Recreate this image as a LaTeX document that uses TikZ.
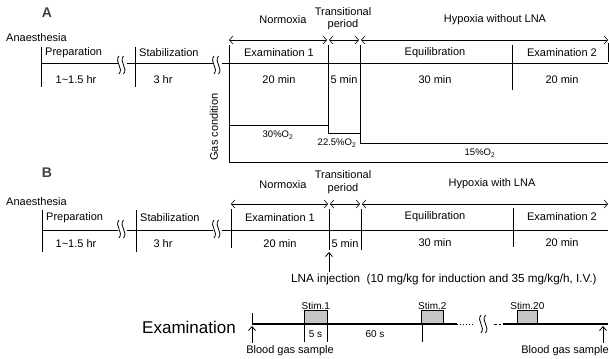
\documentclass[tikz,border=0pt]{standalone}
\usepackage{fontspec}
\setmainfont{Liberation Sans}
\usetikzlibrary{arrows.meta}
\tikzset{
  lbl/.style={font=\fontsize{11}{13}\selectfont, inner sep=0pt},
  gaslbl/.style={font=\fontsize{9.5}{11}\selectfont, inner sep=0pt},
  stimlbl/.style={font=\fontsize{10}{12}\selectfont, inner sep=0pt},
  biglbl/.style={font=\fontsize{17}{20}\selectfont, inner sep=0pt},
  lettr/.style={font=\fontsize{14}{16}\selectfont\bfseries, inner sep=0pt, text=black!75},
  tick/.style={line width=0.8pt},
  mainline/.style={double=white, draw=black, line width=0.8pt, double distance=1.4pt},
  gasline/.style={line width=0.9pt},
  span/.style={line width=0.6pt, {Straight Barb[length=3.5pt,width=8pt]}-{Straight Barb[length=3.5pt,width=8pt]}},
  uparrow/.style={line width=0.8pt, -{Straight Barb[length=4pt,width=7pt]}},
  stimbox/.style={draw, line width=0.7pt, fill=gray!45},
  exline/.style={draw=black, line width=1.1pt},
  brk/.pic={
    \fill[white] (-4.5,-9) rectangle (4.5,9);
    \draw[line width=0.8pt] (-3,-9) .. controls (-8,-3) and (2,3) .. (-3,9);
    \draw[line width=0.8pt] (1.5,-9) .. controls (-3.5,-3) and (6.5,3) .. (1.5,9);
  }
}
\begin{document}
\begin{tikzpicture}[x=1pt,y=-1pt]
\useasboundingbox (0,0) rectangle (609,358);
\fill[white] (0,0) rectangle (609,358);

% ================= Section A =================
\node[lettr] (labA) at (47,13) {A};
\node[lbl,anchor=west] (anA) at (6,38) {Anaesthesia};

\coordinate (Am0) at (41,65);
\coordinate (Am1) at (608,65);
\draw[mainline] (Am0) -- (Am1);
\pic at (122,65) {brk};
\pic at (217,65) {brk};

% ticks
\coordinate (At1a) at (41,47);  \coordinate (At1b) at (41,87);
\coordinate (At2a) at (135,47); \coordinate (At2b) at (135,87);
\coordinate (At3a) at (229,45); \coordinate (At3b) at (229,162);
\coordinate (At4a) at (328,45); \coordinate (At4b) at (328,125);
\coordinate (At5a) at (360,45); \coordinate (At5b) at (360,133);
\coordinate (At6a) at (512,45); \coordinate (At6b) at (512,90);
\coordinate (At7a) at (608,43); \coordinate (At7b) at (608,62);
\foreach \t in {1,...,7} {\draw[tick] (At\t a) -- (At\t b);}

% spans
\coordinate (As0) at (229,40);
\coordinate (As1) at (328,40);
\coordinate (As2) at (360,40);
\coordinate (As3) at (608,40);
\draw[span] (As0) -- ([xshift=-1pt]As1);
\draw[span] ([xshift=1pt]As1) -- ([xshift=-1pt]As2);
\draw[span] ([xshift=1pt]As2) -- (As3);

\node[lbl] (normA) at (283,20) {Normoxia};
\node[lbl] (trA1) at (343,12) {Transitional};
\node[lbl] (trA2) at (343,25) {period};
\node[lbl] (hypA) at (495,20) {Hypoxia without LNA};

\node[lbl,anchor=west] (prepA) at (45,53) {Preparation};
\node[lbl,anchor=west] (stabA) at (139,53) {Stabilization};
\node[lbl] (ex1A) at (279,53) {Examination 1};
\node[lbl] (eqA) at (435,53) {Equilibration};
\node[lbl] (ex2A) at (562,53) {Examination 2};

\node[lbl] (d1A) at (76,80) {1\textasciitilde 1.5 hr};
\node[lbl] (d2A) at (163,80) {3 hr};
\node[lbl] (d3A) at (279,80) {20 min};
\node[lbl] (d4A) at (344,80) {5 min};
\node[lbl] (d5A) at (435,80) {30 min};
\node[lbl] (d6A) at (562,80) {20 min};

% gas condition
\node[lbl,rotate=90] (gasc) at (214,127) {Gas condition};
\coordinate (g1) at (229,125);
\coordinate (g2) at (328,125);
\coordinate (g3) at (328,133);
\coordinate (g4) at (360,133);
\coordinate (g5) at (360,143);
\coordinate (g6) at (608,143);
\coordinate (g7) at (229,162);
\coordinate (g8) at (608,162);
\draw[gasline] (g1) -- (g2) -- (g3) -- (g4) -- (g5) -- (g6);
\draw[gasline] (g7) -- (g8);
\node[gaslbl] (o30) at (278,135) {30\%O\textsubscript{2}};
\node[gaslbl] (o22) at (337,143) {22.5\%O\textsubscript{2}};
\node[gaslbl] (o15) at (480,153) {15\%O\textsubscript{2}};

% ================= Section B =================
\node[lettr] (labB) at (47,173) {B};
\node[lbl,anchor=west] (anB) at (6,202) {Anaesthesia};

\coordinate (Bm0) at (42,229);
\coordinate (Bm1) at (608,229);
\draw[mainline] (Bm0) -- (Bm1);
\pic at (122,229) {brk};
\pic at (217,229) {brk};

\coordinate (Bt1a) at (42,210);  \coordinate (Bt1b) at (42,252);
\coordinate (Bt2a) at (136,210); \coordinate (Bt2b) at (136,252);
\coordinate (Bt3a) at (231,209); \coordinate (Bt3b) at (231,248);
\coordinate (Bt4a) at (329,209); \coordinate (Bt4b) at (329,250);
\coordinate (Bt5a) at (361,209); \coordinate (Bt5b) at (361,250);
\coordinate (Bt6a) at (513,208); \coordinate (Bt6b) at (513,247);
\foreach \t in {1,...,6} {\draw[tick] (Bt\t a) -- (Bt\t b);}

\coordinate (Bs0) at (231,204);
\coordinate (Bs1) at (329,204);
\coordinate (Bs2) at (361,204);
\coordinate (Bs3) at (608,204);
\draw[span] (Bs0) -- ([xshift=-1pt]Bs1);
\draw[span] ([xshift=1pt]Bs1) -- ([xshift=-1pt]Bs2);
\draw[span] ([xshift=1pt]Bs2) -- (Bs3);

\node[lbl] (normB) at (283,185) {Normoxia};
\node[lbl] (trB1) at (343,175) {Transitional};
\node[lbl] (trB2) at (343,189) {period};
\node[lbl] (hypB) at (492,184) {Hypoxia with LNA};

\node[lbl,anchor=west] (prepB) at (46,218) {Preparation};
\node[lbl,anchor=west] (stabB) at (140,218) {Stabilization};
\node[lbl] (ex1B) at (280,218) {Examination 1};
\node[lbl] (eqB) at (435,217) {Equilibration};
\node[lbl] (ex2B) at (562,217) {Examination 2};

\node[lbl] (d1B) at (76,244) {1\textasciitilde 1.5 hr};
\node[lbl] (d2B) at (163,244) {3 hr};
\node[lbl] (d3B) at (280,244) {20 min};
\node[lbl] (d4B) at (345,244) {5 min};
\node[lbl] (d5B) at (435,243) {30 min};
\node[lbl] (d6B) at (562,243) {20 min};

% LNA injection
\node[lbl,anchor=west,font=\fontsize{11.7}{13}\selectfont] (lna) at (291,279) {LNA injection\ \ (10 mg/kg for induction and 35 mg/kg/h, I.V.)};
\coordinate (lnaS) at (329,272);
\coordinate (lnaE) at (329,252);
\draw[uparrow] (lnaS) -- (lnaE);

% ================= Examination panel =================
\node[biglbl] (exam) at (189,327) {Examination};
\coordinate (e0) at (252,324);
\coordinate (e1) at (457,324);
\coordinate (e2) at (472,324);
\coordinate (e3) at (494,324);
\coordinate (e4) at (501,324);
\coordinate (e5) at (503,324);
\coordinate (e6) at (608,324);
\draw[exline] (e0) -- (e1);
\draw[line width=0.9pt, dotted] (e1) -- (e2);
\draw[line width=0.9pt, dash pattern=on 3pt off 2pt] (e3) -- (e4);
\draw[exline] (e5) -- (e6);
\pic at (484,324) {brk};

\node[stimbox, minimum width=23pt, minimum height=13pt, anchor=south west] (s1) at (304,324) {};
\node[stimbox, minimum width=22pt, minimum height=13pt, anchor=south west] (s2) at (421,324) {};
\node[stimbox, minimum width=20pt, minimum height=13pt, anchor=south west] (s20) at (517,324) {};
\node[stimlbl, anchor=south] (s1l) at ([yshift=1pt]s1.north) {Stim.1};
\node[stimlbl, anchor=south] (s2l) at ([yshift=1pt]s2.north) {Stim.2};
\node[stimlbl, anchor=south] (s20l) at ([yshift=1pt]s20.north) {Stim.20};

\coordinate (k1a) at (304,324); \coordinate (k1b) at (304,342);
\coordinate (k2a) at (327,324); \coordinate (k2b) at (327,342);
\coordinate (k3a) at (422,324); \coordinate (k3b) at (422,342);
\foreach \t in {1,2,3} {\draw[tick] (k\t a) -- (k\t b);}
\node[stimlbl] (fives) at (315.5,334) {5 s};
\node[stimlbl] (sixty) at (375,334) {60 s};

\coordinate (bl0) at (252,313);
\coordinate (bl1) at (252,343);
\coordinate (bl2) at (252,326);
\draw[tick] (bl0) -- (e0);
\draw[uparrow] (bl1) -- (bl2);
\node[lbl] (bgs1) at (290,351) {Blood gas sample};

\coordinate (br1) at (603,343);
\coordinate (br2) at (603,326);
\draw[uparrow] (br1) -- (br2);
\node[lbl,anchor=east] (bgs2) at (609,351) {Blood gas sample};
\end{tikzpicture}
\end{document}
